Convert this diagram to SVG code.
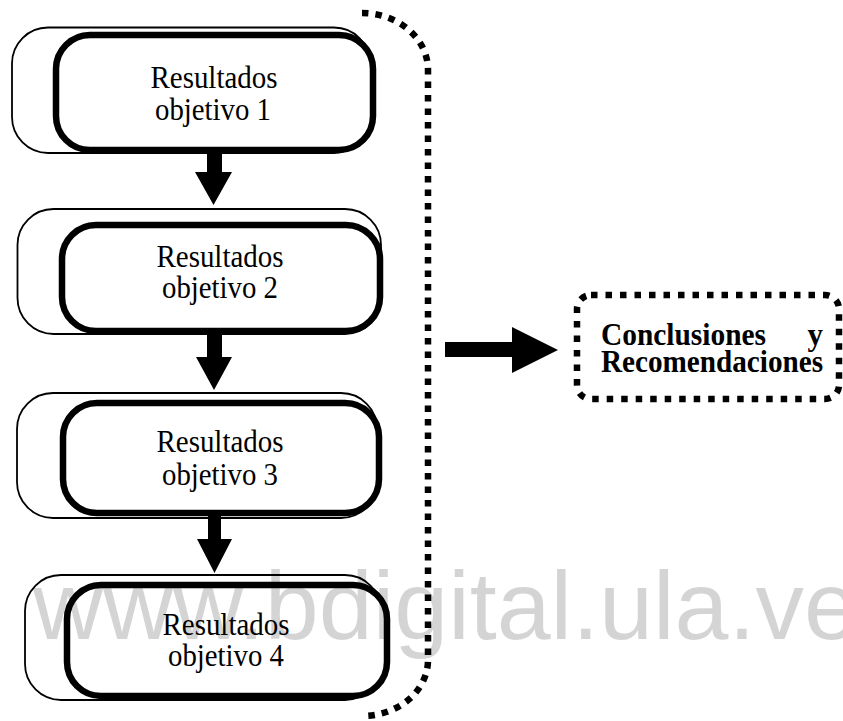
<svg xmlns="http://www.w3.org/2000/svg" width="843" height="721" viewBox="0 0 843 721">
  <style>
    .back { fill: #fff; stroke: #000; stroke-width: 1.8; }
    .front { fill: #fff; stroke: #000; stroke-width: 6.5; }
    .lbl { font-family: "Liberation Serif", "Times New Roman", serif; font-size: 31px; fill: #000; text-anchor: middle; }
    .bold { font-family: "Liberation Serif", "Times New Roman", serif; font-size: 31px; font-weight: bold; fill: #000; }
    .dots { fill: none; stroke: #000; stroke-width: 6.5; stroke-dasharray: 6.5 7; }
    .arrow { fill: #000; stroke: none; }
    .mark { font-family: "Liberation Sans", Arial, sans-serif; font-size: 97px; fill: #000; fill-opacity: 0.17; }
  </style>
  <rect width="843" height="721" fill="#fff"/>

  <!-- result blocks: a thin shadow frame behind a heavy rounded frame -->
  <g id="obj1">
    <rect class="back" x="12" y="27.5" width="358" height="125.5" rx="36"/>
    <rect class="front" x="56" y="35" width="317" height="115" rx="34"/>
    <text class="lbl" x="214" y="88" textLength="127" lengthAdjust="spacingAndGlyphs">Resultados</text>
    <text class="lbl" x="213" y="120" textLength="116" lengthAdjust="spacingAndGlyphs">objetivo 1</text>
  </g>
  <g id="obj2">
    <rect class="back" x="17.5" y="209" width="363.5" height="125" rx="36"/>
    <rect class="front" x="62" y="225" width="318" height="106" rx="34"/>
    <text class="lbl" x="220" y="267" textLength="127" lengthAdjust="spacingAndGlyphs">Resultados</text>
    <text class="lbl" x="220" y="298" textLength="116" lengthAdjust="spacingAndGlyphs">objetivo 2</text>
  </g>
  <g id="obj3">
    <rect class="back" x="17" y="393" width="360" height="125" rx="36"/>
    <rect class="front" x="63" y="403" width="316" height="110" rx="34"/>
    <text class="lbl" x="220" y="452" textLength="127" lengthAdjust="spacingAndGlyphs">Resultados</text>
    <text class="lbl" x="220" y="485" textLength="116" lengthAdjust="spacingAndGlyphs">objetivo 3</text>
  </g>
  <g id="obj4">
    <rect class="back" x="25" y="575" width="356" height="125" rx="36"/>
    <rect class="front" x="67" y="585" width="320" height="111" rx="34"/>
    <text class="lbl" x="226" y="635" textLength="127" lengthAdjust="spacingAndGlyphs">Resultados</text>
    <text class="lbl" x="226" y="666" textLength="116" lengthAdjust="spacingAndGlyphs">objetivo 4</text>
  </g>

  <!-- conclusions block -->
  <g id="conclusiones">
    <rect class="dots" x="577" y="295" width="262" height="104" rx="14" style="stroke-width:6.5;stroke-dasharray:6.5 8"/>
    <text class="bold" x="601" y="345" textLength="165" lengthAdjust="spacingAndGlyphs">Conclusiones</text>
    <text class="bold" x="823" y="345" text-anchor="end">y</text>
    <text class="bold" x="601" y="372" textLength="222" lengthAdjust="spacingAndGlyphs">Recomendaciones</text>
  </g>

  <!-- connectors -->
  <g id="connectors">
    <polygon class="arrow" points="207,150 222,150 222,172 232,172 213.5,205 195,172 207,172"/>
    <polygon class="arrow" points="207,331 222,331 222,357 232,357 214,390 196,357 207,357"/>
    <polygon class="arrow" points="208,513 221,513 221,539 232,539 214.5,573 197,539 208,539"/>
    <polygon class="arrow" points="445,342 512,342 512,327 558,350 512,373 512,357 445,357"/>
    <!-- dotted brace grouping the four results -->
    <path class="dots" d="M362,13 A66,57 0 0 1 428,70 L428,660 A66,56 0 0 1 362,716"/>
  </g>

  <!-- repository watermark -->
  <text class="mark" x="33" y="639">www.bdigital.ula.ve</text>
</svg>
